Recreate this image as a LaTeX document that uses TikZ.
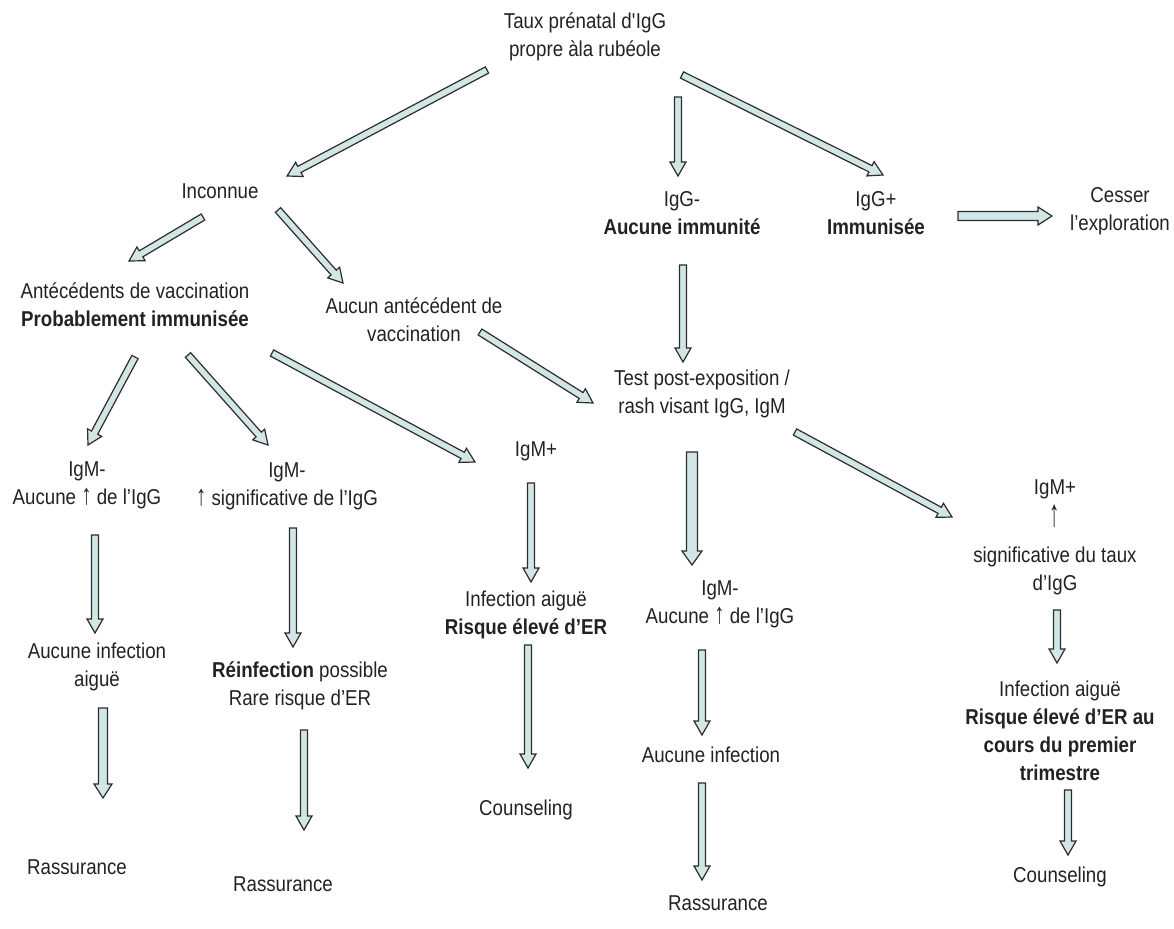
\documentclass[tikz,border=0pt]{standalone}
\usepackage{fontspec}
\setmainfont{Liberation Sans}[FakeStretch=0.87]
\usetikzlibrary{calc}

\definecolor{arrowfill}{HTML}{D2E6E6}
\definecolor{arrowline}{HTML}{2C2C2C}
\definecolor{txt}{HTML}{222222}

\newcommand{\uparr}{\scalebox{1.1}[1.35]{↑}}

% hollow block arrow from #2 to #3, #1 = half shaft width
\newcommand{\fatarrow}[3][3.5]{%
  \filldraw[blockarrow] let \p1=#2, \p2=#3,
    \n1={atan2(\y2-\y1,\x2-\x1)},
    \n2={veclen(\x2-\x1,\y2-\y1)-14pt},
    \n3={#1pt+4.5pt} in
    ($(\p1)+(\n1+90:#1pt)$) -- ++(\n1:\n2) -- ++(\n1+90:4.5pt) -- (\p2)
    -- ($(\p2)+(\n1+180:14pt)+(\n1-90:\n3)$) -- ++(\n1+90:4.5pt)
    -- ($(\p1)+(\n1-90:#1pt)$) -- cycle;}

\begin{document}
\begin{tikzpicture}[x=1pt, y=-1pt,
    every node/.style={font=\fontsize{21.5}{28}\selectfont, text=txt, align=center, inner sep=0pt},
    blockarrow/.style={draw=arrowline, fill=arrowfill, line width=1.2, line join=miter}]
    \useasboundingbox (0,0) rectangle (1174,928);

    \node (taux) at (585,37) {Taux prénatal d\textquotesingle IgG\\propre àla rubéole};
    \node (inconnue) at (220,191) {Inconnue};
    \node (igneg) at (682,213) {IgG-\\\textbf{Aucune immunité}};
    \node (igpos) at (876,213) {IgG+\\\textbf{Immunisée}};
    \node (cesser) at (1120,211) {Cesser\\l’exploration};
    \node (antec) at (135,305) {Antécédents de vaccination\\\textbf{Probablement immunisée}};
    \node (aucunvac) at (414,320) {Aucun antécédent de\\vaccination};
    \node (test) at (702,394) {Test post-exposition /\\rash visant IgG, IgM};
    \node (igmnegA) at (87,485) {IgM-\\Aucune \uparr{} de l’IgG};
    \node (igmnegB) at (287,486) {IgM-\\\uparr{} significative de l’IgG};
    \node (igmposA) at (536,451) {IgM+};
    \node (igmposB) at (1055,537) {IgM+\\[4pt]\scalebox{1.1}[1.8]{↑}\\[8pt]significative du taux\\d’IgG};
    \node (igmnegC) at (720,604) {IgM-\\Aucune \uparr{} de l’IgG};
    \node (infA) at (526,615) {Infection aiguë\\\textbf{Risque élevé d’ER}};
    \node (aucinfA) at (97,667) {Aucune infection\\aiguë};
    \node (reinf) at (300,686) {\textbf{Réinfection} possible\\Rare risque d’ER};
    \node (infB) at (1060,731) {Infection aiguë\\\textbf{Risque élevé d’ER au}\\\textbf{cours du premier}\\\textbf{trimestre}};
    \node (aucinfC) at (711,755) {Aucune infection};
    \node (rassA) at (77,867) {Rassurance};
    \node (rassB) at (283,884) {Rassurance};
    \node (counsA) at (526,810) {Counseling};
    \node (rassC) at (718,903) {Rassurance};
    \node (counsB) at (1060,877) {Counseling};

    \fatarrow{($(taux)+(-98,33)$)}{($(inconnue)+(67,-15)$)}
    \fatarrow{($(taux)+(93,60)$)}{($(igneg)+(-4,-37)$)}
    \fatarrow{($(taux)+(97,38)$)}{($(igpos)+(7,-38)$)}
    \fatarrow[4.5]{($(igpos)+(82,3)$)}{($(cesser)+(-68,5)$)}
    \fatarrow{($(inconnue)+(-17,26)$)}{($(antec)+(-6,-44)$)}
    \fatarrow{($(inconnue)+(58,19)$)}{($(aucunvac)+(-71,-37)$)}
    \fatarrow{($(igneg)+(1,52)$)}{($(test)+(-19,-32)$)}
    \fatarrow{($(aucunvac)+(66,12)$)}{($(test)+(-109,9)$)}
    \fatarrow{($(antec)+(0,52)$)}{($(igmnegA)+(1,-40)$)}
    \fatarrow{($(antec)+(53,50)$)}{($(igmnegB)+(-19,-41)$)}
    \fatarrow{($(antec)+(137,48)$)}{($(igmposA)+(-61,11)$)}
    \fatarrow[5.5]{($(test)+(-10,58)$)}{($(igmnegC)+(-28,-39)$)}
    \fatarrow{($(test)+(93,38)$)}{($(igmposB)+(-103,-20)$)}
    \fatarrow{($(igmnegA)+(8,50)$)}{($(aucinfA)+(-2,-34)$)}
    \fatarrow{($(igmnegB)+(6,42)$)}{($(reinf)+(-7,-39)$)}
    \fatarrow{($(igmposA)+(-5,32)$)}{($(infA)+(5,-33)$)}
    \fatarrow{($(infA)+(2,30)$)}{($(counsA)+(2,-42)$)}
    \fatarrow{($(igmnegC)+(-18,46)$)}{($(aucinfC)+(-9,-20)$)}
    \fatarrow{($(aucinfC)+(-9,28)$)}{($(rassC)+(-16,-23)$)}
    \fatarrow{($(igmposB)+(2,73)$)}{($(infB)+(-3,-68)$)}
    \fatarrow{($(infB)+(8,59)$)}{($(counsB)+(8,-22)$)}
    \fatarrow[4.5]{($(aucinfA)+(6,41)$)}{($(rassA)+(26,-69)$)}
    \fatarrow{($(reinf)+(4,44)$)}{($(rassB)+(21,-54)$)}
\end{tikzpicture}
\end{document}
